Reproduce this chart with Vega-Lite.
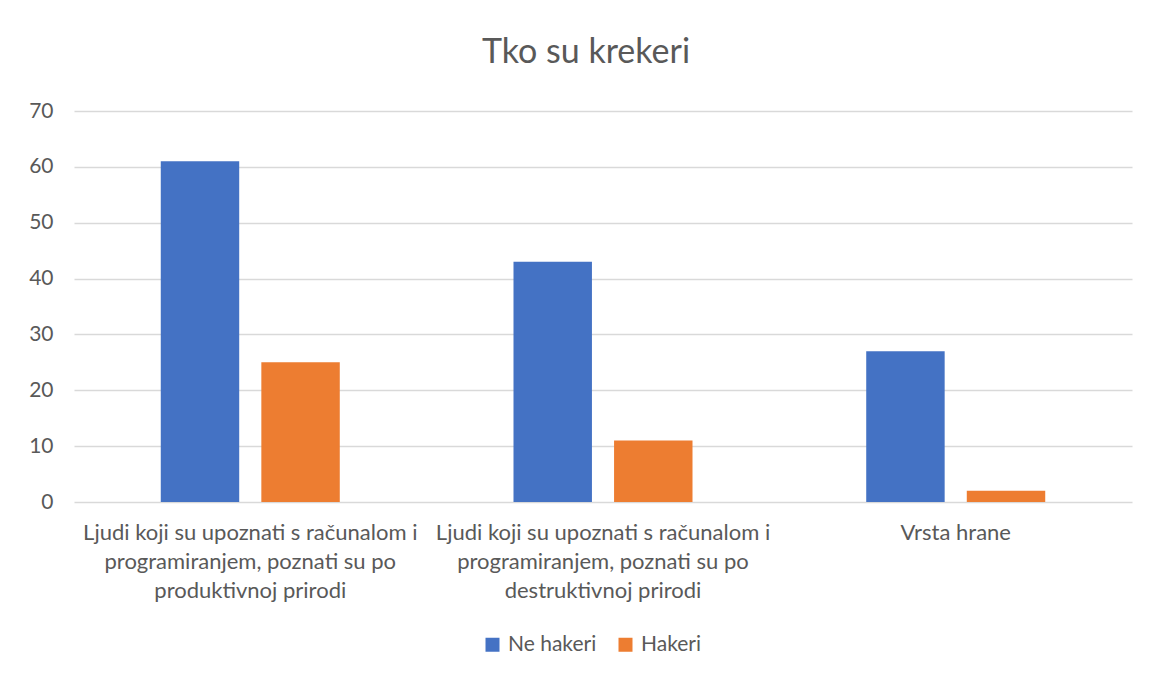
{
  "$schema": "https://vega.github.io/schema/vega-lite/v6.json",
  "autosize": "none",
  "width": 1058,
  "height": 391,
  "padding": {"left": 74, "top": 111, "right": 18, "bottom": 178},
  "background": "white",
  "title": {
    "text": "Tko su krekeri",
    "font": "Lato",
    "fontSize": 34,
    "fontWeight": "normal",
    "color": "#595959",
    "anchor": "middle",
    "dx": -17,
    "offset": 30
  },
  "data": {
    "values": [
      {"kategorija": "Ljudi koji su upoznati s računalom i programiranjem, poznati su po produktivnoj prirodi", "serija": "Ne hakeri", "vrijednost": 61},
      {"kategorija": "Ljudi koji su upoznati s računalom i programiranjem, poznati su po produktivnoj prirodi", "serija": "Hakeri", "vrijednost": 25},
      {"kategorija": "Ljudi koji su upoznati s računalom i programiranjem, poznati su po destruktivnoj prirodi", "serija": "Ne hakeri", "vrijednost": 43},
      {"kategorija": "Ljudi koji su upoznati s računalom i programiranjem, poznati su po destruktivnoj prirodi", "serija": "Hakeri", "vrijednost": 11},
      {"kategorija": "Vrsta hrane", "serija": "Ne hakeri", "vrijednost": 27},
      {"kategorija": "Vrsta hrane", "serija": "Hakeri", "vrijednost": 2}
    ]
  },
  "mark": {"type": "bar"},
  "encoding": {
    "x": {
      "field": "kategorija",
      "type": "nominal",
      "sort": null,
      "scale": {"paddingInner": 0.4925, "paddingOuter": 0.246},
      "axis": {
        "title": null,
        "labelAngle": 0,
        "domain": false,
        "ticks": false,
        "labelFont": "Lato",
        "labelFontSize": 22,
        "labelColor": "#595959",
        "labelPadding": 20,
        "labelLineHeight": 29,
        "labelLimit": 0,
        "labelExpr": "datum.label == 'Vrsta hrane' ? 'Vrsta hrane' : (indexof(datum.label, 'produktivnoj') >= 0 ? ['Ljudi koji su upoznati s računalom i', 'programiranjem, poznati su po', 'produktivnoj prirodi'] : ['Ljudi koji su upoznati s računalom i', 'programiranjem, poznati su po', 'destruktivnoj prirodi'])"
      }
    },
    "xOffset": {
      "field": "serija",
      "type": "nominal",
      "sort": ["Ne hakeri", "Hakeri"],
      "scale": {"paddingInner": 0.22, "paddingOuter": 0}
    },
    "y": {
      "field": "vrijednost",
      "type": "quantitative",
      "scale": {"domain": [0, 70], "nice": false},
      "axis": {
        "title": null,
        "values": [0, 10, 20, 30, 40, 50, 60, 70],
        "domain": false,
        "ticks": false,
        "labelFont": "Lato",
        "labelFontSize": 21,
        "labelColor": "#595959",
        "labelPadding": 21,
        "gridColor": "#D9D9D9",
        "gridWidth": 1.5
      }
    },
    "color": {
      "field": "serija",
      "type": "nominal",
      "sort": ["Ne hakeri", "Hakeri"],
      "scale": {"domain": ["Ne hakeri", "Hakeri"], "range": ["#4472C4", "#ED7D31"]},
      "legend": {
        "title": null,
        "orient": "none",
        "direction": "horizontal",
        "legendX": 408,
        "legendY": 523,
        "symbolType": "square",
        "symbolSize": 196,
        "symbolStrokeWidth": 0,
        "labelFont": "Lato",
        "labelFontSize": 21,
        "labelColor": "#595959",
        "labelOffset": 5,
        "columnPadding": 18
      }
    }
  },
  "config": {
    "view": {"stroke": null}
  }
}
